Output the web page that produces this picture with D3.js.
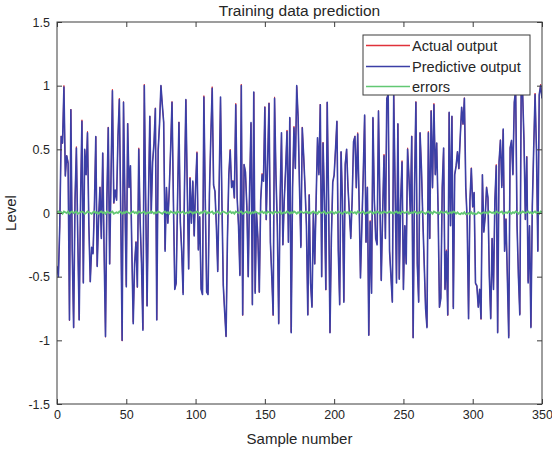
<!DOCTYPE html>
<html>
<head>
<meta charset="utf-8">
<script src="https://cdn.jsdelivr.net/npm/d3@7"></script>
<style>
  body { margin: 0; background: #fff; }
  svg { display: block; }
  text { font-family: "Liberation Sans", Arial, Helvetica, sans-serif; fill: #262626; }
</style>
</head>
<body>
<svg id="chart" width="552" height="453"></svg>
<script>
// Network output on the training set (350 samples + start point)
const predictive = [
  -0.42,-0.50,-0.10,0.60,0.55,0.99,0.29,0.45,0.39,-0.84,
  0.81,-0.30,-0.90,0.10,0.51,-0.20,-0.84,0.10,0.72,-0.55,
  0.50,0.30,0.63,-0.10,-0.54,-0.27,-0.32,0.05,0.60,-0.42,
  -0.05,0.20,-0.20,0.47,-0.30,-0.97,0.10,0.67,-0.40,0.30,
  0.96,0.08,0.18,0.10,0.60,0.89,0.00,-1.00,0.87,0.10,
  -0.58,0.70,0.20,0.37,-0.29,-0.87,-0.40,-0.23,-0.58,0.50,
  -0.07,-0.40,-0.92,1.00,0.10,-0.73,0.10,0.76,0.00,0.40,
  0.55,0.82,-0.84,0.49,0.70,1.00,0.85,0.71,-0.30,0.20,
  -0.08,0.18,0.50,0.87,0.10,-0.60,-0.55,0.10,0.71,-0.07,
  -0.30,-0.64,0.20,0.89,0.20,-0.44,0.27,-0.08,0.25,-0.18,
  0.20,0.47,-0.29,-0.03,-0.60,-0.64,0.91,0.10,-0.62,-0.64,
  0.15,0.60,0.98,0.22,0.17,-0.10,-0.46,0.20,0.91,0.10,
  -0.57,-0.78,-0.97,-0.20,0.30,0.49,0.20,0.25,0.12,0.85,
  0.12,-0.10,-0.49,1.00,-0.80,0.38,0.32,0.05,-0.50,0.20,
  0.71,-0.72,0.95,-0.63,0.00,-0.20,-0.62,0.10,0.30,0.25,
  0.83,-0.05,0.40,0.86,-0.23,-0.50,-0.80,0.90,0.30,-0.10,
  -0.87,0.10,0.63,-0.25,0.10,0.35,0.64,-0.23,0.75,-0.94,
  0.20,0.67,0.35,1.00,0.75,0.20,-0.27,0.67,0.45,0.20,
  -0.10,-0.80,0.14,-0.55,-0.74,0.00,-0.40,0.10,0.59,0.30,
  0.85,-0.50,0.55,0.10,-0.60,0.87,0.10,-0.94,-0.20,0.24,
  0.30,0.50,0.72,-0.30,-0.72,0.48,0.10,-0.70,0.38,0.50,
  0.20,0.00,-0.20,0.10,0.56,0.60,0.20,0.62,0.10,-0.51,
  -0.10,0.30,0.77,-0.23,0.20,-0.96,-0.07,-0.63,0.75,0.10,
  -0.20,-0.25,0.80,0.10,-0.53,0.00,0.45,-0.20,0.90,0.93,
  -0.30,-0.50,-0.70,0.93,0.20,-0.55,0.70,-0.52,0.10,0.40,
  -0.60,-0.10,-0.40,0.50,0.28,0.00,0.60,-0.98,0.20,0.87,
  -0.40,-0.70,0.63,0.35,-0.05,-0.40,-0.75,-0.90,0.63,-0.20,
  0.80,0.20,0.85,0.30,0.55,0.04,-0.74,-0.67,0.20,0.51,
  -0.60,-0.30,-0.80,0.79,-0.10,0.76,-0.75,0.30,0.37,0.48,
  0.35,0.60,0.83,0.70,0.90,0.20,-0.05,-0.83,0.10,0.35,
  0.05,0.16,-0.55,-0.57,-0.74,-0.60,-0.83,0.30,-0.15,-0.03,
  0.20,0.12,-0.50,-0.83,-0.20,-0.60,0.10,0.37,-0.94,0.40,
  0.57,0.20,0.66,-0.30,-0.05,-0.50,-0.98,0.51,0.57,0.30,
  0.87,0.97,-0.10,-0.50,-0.80,1.00,0.95,0.57,-0.05,0.44,
  -0.55,-0.10,-0.90,0.05,0.50,0.93,0.50,-0.30,0.93,1.00,0.90
];

// Prediction error (actual - predictive) per sample
const errors = [
  0.006,0.012,0.000,0.006,-0.006,0.012,0.006,0.000,0.012,-0.006,
  0.006,0.012,0.000,0.006,0.012,-0.006,0.000,0.006,0.012,0.006,
  -0.006,0.000,0.012,0.006,0.000,-0.006,0.006,0.012,0.000,0.006,
  -0.006,0.006,0.012,0.000,0.006,-0.006,0.012,0.006,0.000,0.006,
  0.012,-0.006,0.000,0.006,0.000,0.012,0.006,-0.006,0.006,0.000,
  0.012,0.006,0.000,-0.006,0.006,0.012,0.000,0.006,-0.006,0.012,
  0.006,0.000,0.006,0.012,-0.006,0.000,0.006,0.000,0.012,0.006,
  -0.006,0.006,0.000,0.012,0.006,0.000,-0.006,0.006,0.012,0.000,
  0.006,-0.006,0.012,0.006,0.000,0.006,-0.006,0.012,0.006,0.000,
  0.006,0.012,-0.006,0.000,0.006,0.000,0.012,0.006,-0.006,0.006,
  0.000,0.012,0.006,-0.006,0.006,0.000,0.012,0.016,-0.006,0.006,
  0.000,0.006,0.012,-0.006,0.000,0.006,0.012,0.000,-0.006,0.006,
  0.012,0.006,0.000,-0.006,0.006,0.012,0.000,0.006,-0.006,0.012,
  0.006,0.000,0.006,0.012,-0.006,0.000,0.006,0.012,0.000,0.006,
  -0.006,0.006,0.000,0.012,0.006,0.000,-0.006,0.006,0.012,0.000,
  0.006,-0.006,0.012,0.006,0.000,0.006,-0.006,0.012,0.006,0.000,
  0.006,0.012,-0.006,0.000,0.006,0.000,0.012,0.006,-0.006,0.006,
  0.000,0.012,0.006,-0.006,0.006,0.000,0.012,0.006,0.000,0.006,
  0.012,0.000,0.006,-0.006,0.006,0.012,0.000,0.006,-0.006,0.012,
  0.006,0.000,0.006,0.012,-0.006,0.000,0.006,0.000,0.012,0.006,
  -0.006,0.006,0.000,0.012,0.006,0.000,-0.006,0.006,0.012,0.000,
  0.006,-0.006,0.012,0.006,0.000,0.006,-0.006,0.012,0.006,0.000,
  0.006,0.012,-0.006,0.000,0.006,0.000,0.012,0.006,-0.006,0.006,
  0.000,0.012,0.006,-0.006,0.006,0.000,0.012,0.006,0.000,0.006,
  0.012,0.000,0.006,-0.006,0.006,0.012,0.000,0.006,-0.006,0.012,
  0.006,0.000,0.006,0.012,-0.006,0.000,0.006,0.000,0.012,0.006,
  -0.006,0.006,0.000,0.012,0.006,0.000,-0.006,0.006,0.012,0.000,
  0.006,-0.006,0.012,0.006,0.000,0.006,-0.006,0.012,0.006,0.000,
  0.006,0.012,-0.006,0.000,0.006,0.000,0.012,0.006,-0.006,0.006,
  -0.006,-0.010,0.000,-0.006,0.006,-0.010,-0.006,0.000,-0.010,0.006,
  -0.006,0.000,-0.010,-0.006,0.006,0.000,-0.006,0.000,0.006,0.000,
  0.006,-0.006,0.012,0.006,0.000,0.006,-0.006,0.012,0.006,0.000,
  0.006,0.012,-0.006,0.000,0.006,0.000,0.012,0.006,-0.006,0.006,
  0.000,0.012,0.006,-0.006,0.006,0.000,0.012,0.006,0.000,0.006,
  0.012,0.000,0.006,-0.006,0.006,0.012,0.000,0.006,-0.006,0.012,
  0.006
];

const xTicks = [0, 50, 100, 150, 200, 250, 300, 350];
const yTicks = [-1.5, -1, -0.5, 0, 0.5, 1, 1.5];
const seriesNames = ["Actual output", "Predictive output", "errors"];
const seriesColors = ["#e0323a", "#3b3fa6", "#62c873"];

const svg = d3.select("#chart");
const margin = { left: 57, right: 10, top: 22, bottom: 49 };
const W = 552, H = 453;
const pw = W - margin.left - margin.right;
const ph = H - margin.top - margin.bottom;

const x = d3.scaleLinear().domain([0, 350]).range([margin.left, margin.left + pw]);
const y = d3.scaleLinear().domain([-1.5, 1.5]).range([margin.top + ph, margin.top]);

const n = predictive.length;
const samples = d3.range(n).map(i => ({
  i,
  pred: predictive[i],
  err: errors[i],
  actual: predictive[i] + errors[i]
}));

svg.append("defs").append("clipPath").attr("id", "plotclip")
  .append("rect").attr("x", margin.left).attr("y", margin.top).attr("width", pw).attr("height", ph);

const plot = svg.append("g").attr("clip-path", "url(#plotclip)");
const lineOf = key => d3.line().x(d => x(d.i)).y(d => y(d[key]));

// actual output sits underneath the prediction, which nearly covers it
plot.append("path").datum(samples).attr("d", lineOf("actual"))
  .attr("fill", "none").attr("stroke", seriesColors[0]).attr("stroke-width", 0.9);
plot.append("path").datum(samples).attr("d", lineOf("pred"))
  .attr("fill", "none").attr("stroke", seriesColors[1]).attr("stroke-width", 1.6)
  .attr("stroke-linejoin", "round");
plot.append("path").datum(samples).attr("d", lineOf("err"))
  .attr("fill", "none").attr("stroke", seriesColors[2]).attr("stroke-width", 1.8);

// Axes with inward ticks on all four sides
const fmt = d => String(d);
const axisColor = "#3c3c3c";
function styleAxis(g) {
  g.select(".domain").remove();
  g.selectAll(".tick line").attr("stroke", axisColor);
  g.selectAll(".tick text").attr("fill", "#262626")
    .style("font-family", '"Liberation Sans", Arial, sans-serif').style("font-size", "12.5px");
}
svg.append("g").attr("transform", `translate(0,${margin.top + ph})`)
  .call(d3.axisBottom(x).tickValues(xTicks).tickFormat(fmt).tickSizeInner(-5).tickSizeOuter(0).tickPadding(6))
  .call(styleAxis);
svg.append("g").attr("transform", `translate(0,${margin.top})`)
  .call(d3.axisTop(x).tickValues(xTicks).tickFormat("").tickSizeInner(-5).tickSizeOuter(0))
  .call(styleAxis);
svg.append("g").attr("transform", `translate(${margin.left},0)`)
  .call(d3.axisLeft(y).tickValues(yTicks).tickFormat(fmt).tickSizeInner(-5).tickSizeOuter(0).tickPadding(7))
  .call(styleAxis);
svg.append("g").attr("transform", `translate(${margin.left + pw},0)`)
  .call(d3.axisRight(y).tickValues(yTicks).tickFormat("").tickSizeInner(-5).tickSizeOuter(0))
  .call(styleAxis);

svg.append("rect").attr("x", margin.left).attr("y", margin.top).attr("width", pw).attr("height", ph)
  .attr("fill", "none").attr("stroke", axisColor).attr("stroke-width", 1);

// Title and axis labels
svg.append("text").attr("x", margin.left + pw / 2).attr("y", 16)
  .attr("text-anchor", "middle").style("font-size", "15.5px").text("Training data prediction");
svg.append("text").attr("x", margin.left + pw / 2).attr("y", 444)
  .attr("text-anchor", "middle").style("font-size", "15px").text("Sample number");
svg.append("text").attr("transform", `translate(16,${margin.top + ph / 2}) rotate(-90)`)
  .attr("text-anchor", "middle").style("font-size", "15px").text("Level");

// Legend
const lg = svg.append("g");
lg.append("rect").attr("x", 363).attr("y", 35).attr("width", 167).attr("height", 60)
  .attr("fill", "#fff").attr("stroke", axisColor).attr("stroke-width", 1);
const rowY = [45.5, 66.5, 86.5];
seriesNames.forEach((name, k) => {
  lg.append("line").attr("x1", 366).attr("x2", 410).attr("y1", rowY[k]).attr("y2", rowY[k])
    .attr("stroke", seriesColors[k]).attr("stroke-width", k === 1 ? 1.3 : 1.6);
  lg.append("text").attr("x", 412).attr("y", rowY[k]).attr("dy", "0.35em")
    .style("font-size", "14.6px").text(name);
});
</script>
</body>
</html>
